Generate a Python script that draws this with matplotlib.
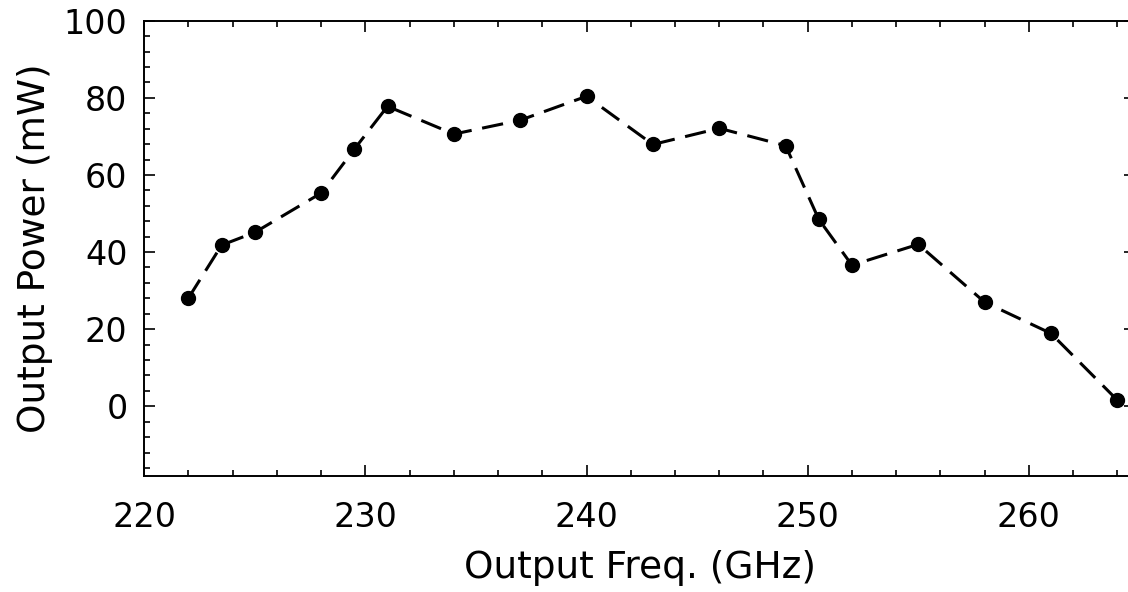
import matplotlib
matplotlib.use("Agg")
import matplotlib.pyplot as plt
from matplotlib.ticker import MultipleLocator

# values
freq_ghz = [222, 223.5, 225, 228, 229.5, 231, 234, 237, 240, 243, 246,
            249, 250.5, 252, 255, 258, 261, 264]
power_mw = [28.1, 41.8, 45.1, 55.3, 66.7, 77.8, 70.6, 74.2, 80.4, 67.9,
            72.1, 67.6, 48.5, 36.6, 42.0, 27.0, 18.9, 1.6]

plt.rcParams["font.family"] = "DejaVu Sans"

fig = plt.figure(figsize=(11.28, 5.92), dpi=100)
ax = fig.add_axes([0.1279, 0.1965, 1.0062 - 0.1279, 0.965 - 0.1965])

ax.plot(freq_ghz, power_mw, color="black", linewidth=2.2,
        linestyle=(0, (7, 3.5)), marker="o", markersize=10)

ax.set_xlim(220, 264.8)
ax.set_ylim(-18, 100)
ax.xaxis.set_major_locator(MultipleLocator(10))
ax.xaxis.set_minor_locator(MultipleLocator(2))
ax.yaxis.set_major_locator(MultipleLocator(20))
ax.yaxis.set_minor_locator(MultipleLocator(4))

ax.tick_params(which="both", direction="in", top=True, right=True,
               width=1.2, labelsize=24)
ax.tick_params(axis="y", which="both", pad=12)
ax.tick_params(axis="x", which="both", pad=18)
ax.tick_params(which="major", length=8)
ax.tick_params(which="minor", length=4)
for sp in ax.spines.values():
    sp.set_linewidth(1.4)

ax.set_xlabel("Output Freq. (GHz)", fontsize=27, labelpad=12)
ax.set_ylabel("Output Power (mW)", fontsize=27, labelpad=8)

fig.savefig("out.png", dpi=100)
